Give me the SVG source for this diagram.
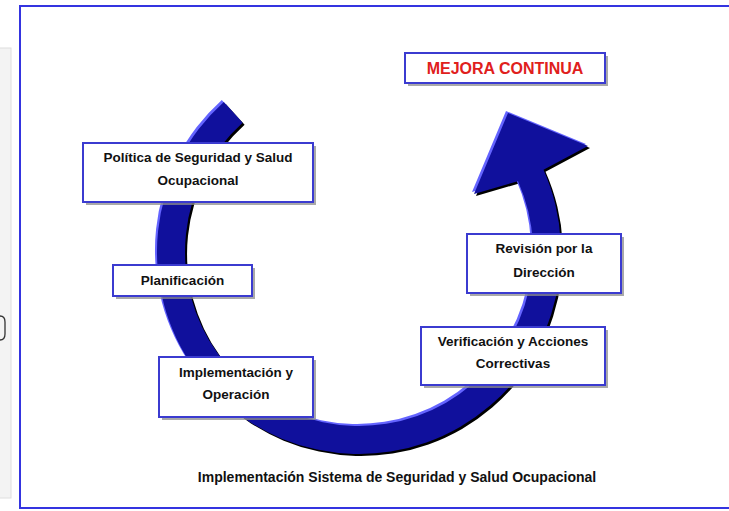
<svg xmlns="http://www.w3.org/2000/svg" width="729" height="511" viewBox="0 0 729 511">
  <style>
    .box { fill: #ffffff; stroke: #3b3bd0; stroke-width: 2; }
    .shadow { fill: #8c8c8c; opacity: 0.75; }
    .lbl { font-family: "Liberation Sans", Arial, sans-serif; font-weight: bold; font-size: 13.5px; fill: #111111; text-anchor: middle; }
    .title { font-family: "Liberation Sans", Arial, sans-serif; font-weight: bold; font-size: 16px; fill: #e0201c; text-anchor: middle; }
    .caption { font-family: "Liberation Sans", Arial, sans-serif; font-weight: bold; font-size: 14px; fill: #111111; text-anchor: middle; }
  </style>
  <defs>
    <path id="arrowShape" d="M 222.8 100.9 A 202 202 0 1 0 542.5 168.8 L 587 145 L 507 112 L 473 193 L 517 180.2 A 174 174 0 1 1 241.6 121.7 Z"/>
  </defs>

  <!-- background -->
  <rect x="0" y="0" width="729" height="511" fill="#ffffff"/>
  <g id="left-strip">
    <rect x="-1" y="48" width="12" height="450" fill="#f3f3f3" stroke="#dedede" stroke-width="1"/>
    <path d="M 0 316 Q 5 316 5 322 L 5 334 Q 5 340 0 340" fill="none" stroke="#333333" stroke-width="1.3"/>
  </g>
  <rect id="frame" x="20" y="6" width="740" height="502" fill="#ffffff" stroke="#3434e0" stroke-width="2"/>

  <!-- connectors: the cycle arrow -->
  <g id="connectors">
    <g id="cycle-arrow">
      <use href="#arrowShape" fill="#000000" transform="translate(3,3)"/>
      <use href="#arrowShape" fill="#6464ff" transform="translate(-1,-1)"/>
      <use href="#arrowShape" fill="#10109c" transform="translate(1,1)"/>
    </g>
  </g>

  <g id="mejora-continua">
    <rect class="shadow" x="408" y="56" width="200" height="30"/>
    <rect class="box" x="405" y="53" width="200" height="30"/>
    <text class="title" x="505" y="74">MEJORA CONTINUA</text>
  </g>

  <g id="politica">
    <rect class="shadow" x="86" y="146" width="230" height="59"/>
    <rect class="box" x="83" y="143" width="230" height="59"/>
    <text class="lbl" x="198" y="162">Política de Seguridad y Salud</text>
    <text class="lbl" x="198" y="185">Ocupacional</text>
  </g>

  <g id="planificacion">
    <rect class="shadow" x="116" y="268" width="139" height="31"/>
    <rect class="box" x="113" y="265" width="139" height="31"/>
    <text class="lbl" x="182.5" y="285">Planificación</text>
  </g>

  <g id="implementacion">
    <rect class="shadow" x="162" y="360" width="154" height="60"/>
    <rect class="box" x="159" y="357" width="154" height="60"/>
    <text class="lbl" x="236" y="377">Implementación y</text>
    <text class="lbl" x="236" y="399">Operación</text>
  </g>

  <g id="verificacion">
    <rect class="shadow" x="424" y="330" width="184" height="58"/>
    <rect class="box" x="421" y="327" width="184" height="58"/>
    <text class="lbl" x="513" y="346">Verificación y Acciones</text>
    <text class="lbl" x="513" y="368">Correctivas</text>
  </g>

  <g id="revision">
    <rect class="shadow" x="470" y="237" width="154" height="59"/>
    <rect class="box" x="467" y="234" width="154" height="59"/>
    <text class="lbl" x="544" y="253">Revisión por la</text>
    <text class="lbl" x="544" y="277">Dirección</text>
  </g>

  <g id="caption">
    <text class="caption" x="397" y="481.5">Implementación Sistema de Seguridad y Salud Ocupacional</text>
  </g>
</svg>
